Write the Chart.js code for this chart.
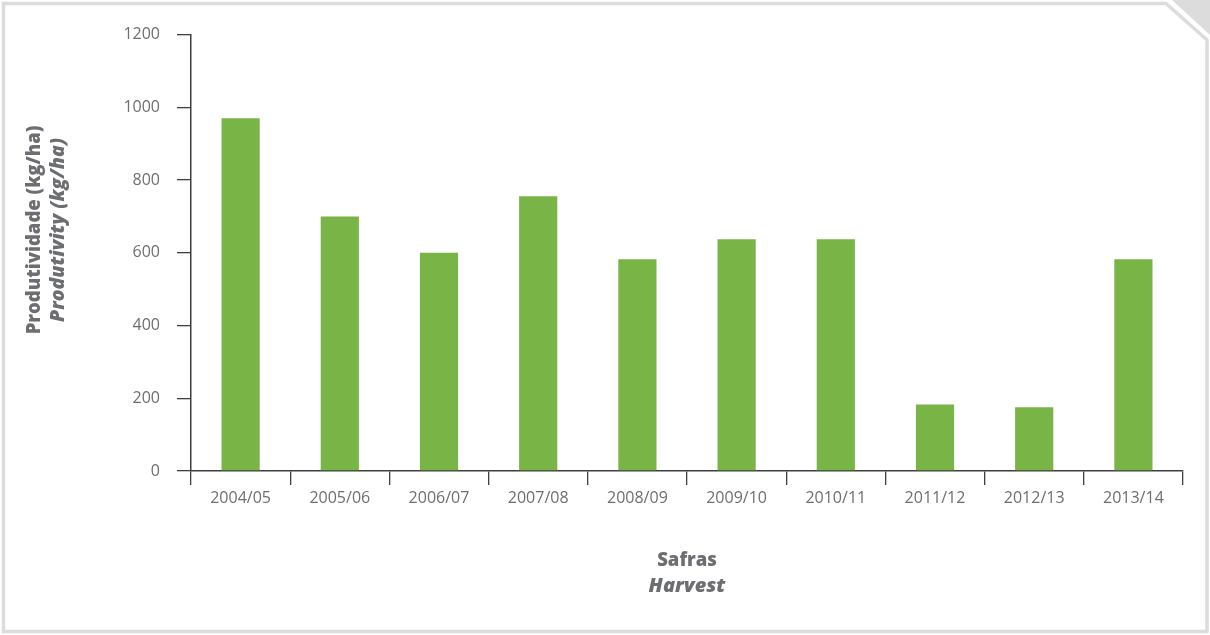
<!DOCTYPE html>
<html lang="pt">
<head>
    <meta charset="UTF-8">
    <title>Produtividade por safra</title>
    <script src="https://cdn.jsdelivr.net/npm/chart.js"></script>
    <style>
        html, body {
            margin: 0;
            padding: 0;
            background: #ffffff;
        }
        .chart-container {
            width: 1210px;
            height: 635px;
        }
    </style>
</head>
<body>
    <div class="chart-container">
        <canvas id="myChart"></canvas>
    </div>

    <script>
        const safras = ['2004/05', '2005/06', '2006/07', '2007/08', '2008/09',
                        '2009/10', '2010/11', '2011/12', '2012/13', '2013/14'];
        const produtividade = [970, 700, 600, 755, 582, 637, 637, 183, 175, 582];
        const yMin = 0;
        const yMax = 1200;
        const yStep = 200;

        const textGray = '#6d6e71';
        const axisGray = '#3f3f3f';

        // frame with folded corner + the two axis titles
        const decorations = {
            id: 'decorations',
            beforeDraw(chart) {
                const ctx = chart.ctx;
                const w = chart.width, h = chart.height;
                ctx.save();
                ctx.strokeStyle = '#dcdcdc';
                ctx.lineWidth = 3.5;
                ctx.beginPath();
                ctx.moveTo(3.5, 3.5);
                ctx.lineTo(1166, 3.5);
                ctx.lineTo(w - 3, 40);
                ctx.lineTo(w - 3, h - 3.5);
                ctx.lineTo(3.5, h - 3.5);
                ctx.closePath();
                ctx.stroke();
                ctx.fillStyle = '#dcdcdc';
                ctx.beginPath();
                ctx.moveTo(1172, 0);
                ctx.lineTo(w, 0);
                ctx.lineTo(w, 35);
                ctx.closePath();
                ctx.fill();
                ctx.restore();
            },
            afterDraw(chart) {
                const ctx = chart.ctx;
                const area = chart.chartArea;
                const cx = (area.left + area.right) / 2;
                ctx.save();
                ctx.fillStyle = textGray;
                ctx.textAlign = 'center';
                ctx.textBaseline = 'middle';

                ctx.font = '800 18.5px "Open Sans"';
                ctx.fillText('Safras', cx, 561);
                ctx.font = 'italic 800 20px "Open Sans"';
                ctx.fillText('Harvest', cx, 586);

                ctx.translate(0, 230);
                ctx.rotate(-Math.PI / 2);
                ctx.font = '800 18.5px "Open Sans"';
                ctx.fillText('Produtividade (kg/ha)', 0, 35);
                ctx.font = 'italic 800 19.5px "Open Sans"';
                ctx.fillText('Produtivity (kg/ha)', 0, 58);
                ctx.restore();
            }
        };

        function createChart() {
            const ctx = document.getElementById('myChart').getContext('2d');
            new Chart(ctx, {
                type: 'bar',
                data: {
                    labels: safras,
                    datasets: [{
                        label: 'Produtividade (kg/ha)',
                        data: produtividade,
                        backgroundColor: '#79b447',
                        borderWidth: 0,
                        barPercentage: 0.385,
                        categoryPercentage: 1.0
                    }]
                },
                options: {
                    responsive: true,
                    maintainAspectRatio: false,
                    animation: false,
                    layout: {
                        padding: { top: 34.5, right: 27, bottom: 0, left: 0 }
                    },
                    scales: {
                        x: {
                            afterFit(scale) { scale.height = 164; },
                            grid: {
                                display: true,
                                offset: true,
                                drawOnChartArea: false,
                                drawTicks: true,
                                tickLength: 14,
                                color: axisGray,
                                lineWidth: 1.3
                            },
                            border: { display: true, color: axisGray, width: 1.5 },
                            ticks: {
                                color: textGray,
                                padding: 4,
                                font: { family: 'Open Sans', size: 16 }
                            }
                        },
                        y: {
                            min: yMin,
                            max: yMax,
                            afterFit(scale) { scale.width = 191; },
                            grid: {
                                display: true,
                                drawOnChartArea: false,
                                drawTicks: true,
                                tickLength: 14,
                                color: axisGray,
                                lineWidth: 1.3
                            },
                            border: { display: true, color: axisGray, width: 1.5 },
                            ticks: {
                                stepSize: yStep,
                                color: textGray,
                                padding: 17,
                                font: { family: 'Open Sans', size: 16 },
                                callback: (value) => String(value)
                            }
                        }
                    },
                    plugins: {
                        legend: { display: false },
                        tooltip: { enabled: false }
                    }
                },
                plugins: [decorations]
            });
        }

        // make sure the canvas gets the real faces, not a fallback
        Promise.all([
            document.fonts.load('16px "Open Sans"'),
            document.fonts.load('800 18.5px "Open Sans"'),
            document.fonts.load('italic 800 20px "Open Sans"')
        ]).then(createChart, createChart);
    </script>
</body>
</html>
